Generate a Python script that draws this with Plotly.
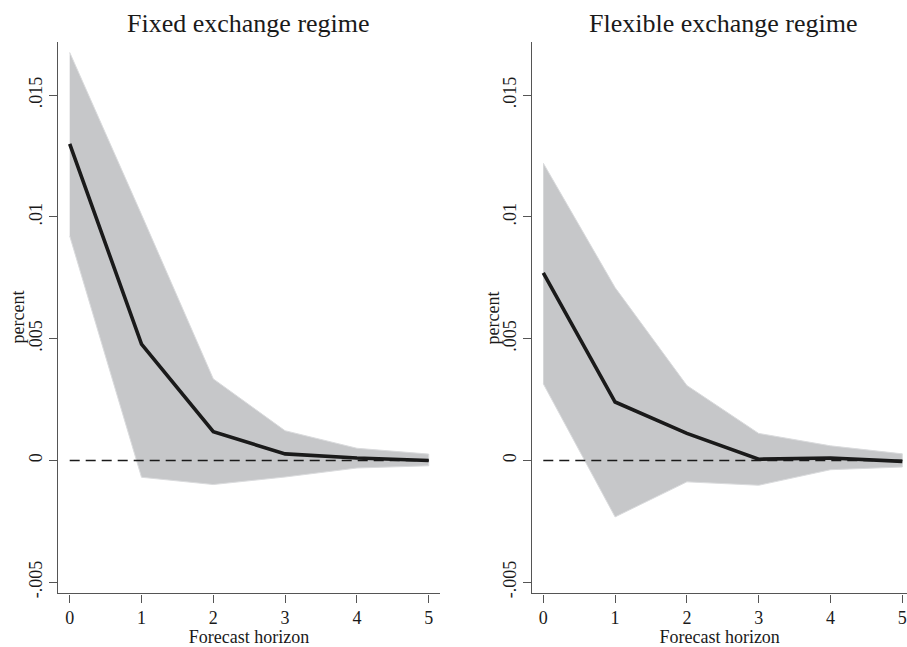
import plotly.graph_objects as go

horizon = [0, 1, 2, 3, 4, 5]

fixed_irf = [0.0130, 0.00478, 0.00118, 0.00027, 0.0001, 0.0]
fixed_upper = [0.01676, 0.0101, 0.00335, 0.00122, 0.0005, 0.00026]
fixed_lower = [0.00922, -0.00069, -0.00099, -0.00068, -0.00031, -0.00022]

flex_irf = [0.0077, 0.0024, 0.00111, 0.00005, 0.0001, -0.00004]
flex_upper = [0.01221, 0.0071, 0.00308, 0.00111, 0.0006, 0.00027]
flex_lower = [0.00315, -0.00232, -0.00088, -0.00102, -0.00038, -0.00027]

titles = ["Fixed exchange regime", "Flexible exchange regime"]
ytick_vals = [-0.005, 0, 0.005, 0.01, 0.015]
ytick_text = ["-.005", "0", ".005", ".01", ".015"]
x_title = "Forecast horizon"
y_title = "percent"

W, H = 907, 647
FONT = "Liberation Serif, Times New Roman, serif"
TXT = "#1a1a1a"
AX = "#555555"

fig = go.Figure()

panels = [
    (fixed_irf, fixed_upper, fixed_lower, "x", "y"),
    (flex_irf, flex_upper, flex_lower, "x2", "y2"),
]
for irf, up, lo, xa, ya in panels:
    fig.add_trace(go.Scatter(
        x=horizon + horizon[::-1], y=up + lo[::-1],
        fill="toself", fillcolor="rgb(198,199,201)",
        line=dict(color="rgb(218,219,221)", width=1),
        mode="lines", hoverinfo="skip", showlegend=False,
        xaxis=xa, yaxis=ya))
    fig.add_trace(go.Scatter(
        x=[horizon[0], horizon[-1]], y=[0, 0], mode="lines",
        line=dict(color="#1a1a1a", width=1.6, dash="10px,6px"),
        showlegend=False, xaxis=xa, yaxis=ya))
    fig.add_trace(go.Scatter(
        x=horizon, y=irf, mode="lines",
        line=dict(color="#1a1a1a", width=3.6),
        showlegend=False, xaxis=xa, yaxis=ya))

def px_x(a, b):
    return [a / W, b / W]

ydom = [1 - 598 / H, 1 - 42 / H]
yrange = [-0.00546, 0.0172]

common_x = dict(
    showgrid=False, zeroline=False, showline=True, linecolor=AX, linewidth=1.3,
    ticks="outside", ticklen=8, tickcolor=AX, tickwidth=1.2,
    tickvals=horizon, ticktext=[str(h) for h in horizon],
    tickfont=dict(family=FONT, size=18, color=TXT),
    title=dict(text=x_title, font=dict(family=FONT, size=18, color=TXT), standoff=5),
)
common_y = dict(
    showgrid=False, zeroline=False, showline=True, linecolor=AX, linewidth=1.3,
    ticks="outside", ticklen=8, tickcolor=AX, tickwidth=1.2,
    tickvals=ytick_vals, ticktext=ytick_text, tickangle=-90,
    tickfont=dict(family=FONT, size=18, color=TXT),
    range=yrange, domain=ydom,
)

ann_common = dict(xref="paper", yref="paper", showarrow=False)
annotations = [
    dict(ann_common, text=titles[0], x=(58 + 440) / 2 / W, y=1 - 24 / H,
         xanchor="center", yanchor="middle", font=dict(family=FONT, size=26, color=TXT)),
    dict(ann_common, text=titles[1], x=(532.3 + 914) / 2 / W, y=1 - 24 / H,
         xanchor="center", yanchor="middle", font=dict(family=FONT, size=26, color=TXT)),
    dict(ann_common, text=y_title, x=18 / W, y=1 - 320 / H, textangle=-90,
         xanchor="center", yanchor="middle", font=dict(family=FONT, size=18, color=TXT)),
    dict(ann_common, text=y_title, x=493 / W, y=1 - 320 / H, textangle=-90,
         xanchor="center", yanchor="middle", font=dict(family=FONT, size=18, color=TXT)),
]

fig.update_layout(
    width=W, height=H,
    margin=dict(l=0, r=0, t=0, b=0),
    paper_bgcolor="white", plot_bgcolor="white",
    font=dict(family=FONT, color=TXT),
    xaxis=dict(common_x, domain=px_x(58, 440), range=[-0.163, 5.157], anchor="y"),
    yaxis=dict(common_y, anchor="x"),
    xaxis2=dict(common_x, domain=px_x(532.3, 907), range=[-0.153, 5.065], anchor="y2"),
    yaxis2=dict(common_y, anchor="x2"),
    annotations=annotations,
)

fig.write_html("out.html")
